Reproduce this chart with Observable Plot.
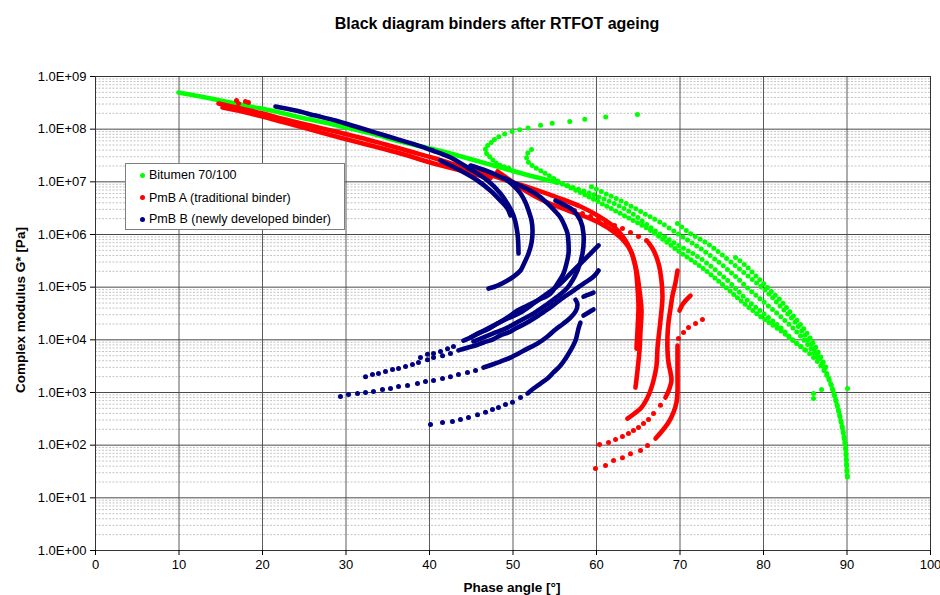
<!DOCTYPE html>
<html><head><meta charset="utf-8">
<script src="https://cdn.jsdelivr.net/npm/d3@7"></script>
<script src="https://cdn.jsdelivr.net/npm/@observablehq/plot@0.6"></script>
<style>
body{margin:0;background:#fff;font-family:"Liberation Sans",Arial,sans-serif;}
#wrap{position:relative;width:940px;height:595px;overflow:hidden;}
#chart{position:absolute;left:0;top:0;}
.title{position:absolute;top:14px;left:0;width:994px;text-align:center;font-weight:bold;font-size:16px;line-height:20px;}
.ylab{position:absolute;left:20px;top:310px;transform:translate(-50%,-50%) rotate(-90deg);font-weight:bold;font-size:13.5px;white-space:nowrap;}
.xlab{position:absolute;left:512px;top:587px;transform:translate(-50%,-50%);font-weight:bold;font-size:13.5px;white-space:nowrap;}
.legend{position:absolute;left:125px;top:163px;width:218px;height:65px;border:1px solid #7f7f7f;background:#fff;font-size:12.5px;}
.item{position:absolute;left:0;height:16px;line-height:16px;white-space:nowrap;}
.item i{position:absolute;left:14px;top:5.5px;width:5px;height:5px;border-radius:50%;}
.item span{position:absolute;left:23px;top:0;}
</style></head>
<body><div id="wrap"></div>
<script>
// ---------------- data ----------------
const seriesNames = ["Bitumen 70/100", "PmB A (traditional binder)", "PmB B (newly developed binder)"];
const xTicks = [0,10,20,30,40,50,60,70,80,90,100];
const xTickLabels = ["0","10","20","30","40","50","60","70","80","90","100"];
const yTicks = [1,10,100,1e3,1e4,1e5,1e6,1e7,1e8,1e9];
const yTickLabels = ["1.0E+00","1.0E+01","1.0E+02","1.0E+03","1.0E+04","1.0E+05","1.0E+06","1.0E+07","1.0E+08","1.0E+09"];

// Bitumen 70/100  [phase angle °, G* Pa]
const bitumenBand = [[9.94,4.96e8],[12.57,4.17e8],[15.57,3.34e8],[18.56,2.69e8],[21.56,2.16e8],[24.55,1.66e8],[27.54,1.33e8],[30.54,1.03e8],[33.53,7.9e7],[36.53,5.8e7],[39.52,4.5e7],[42.51,3.45e7],[45.51,2.54e7],[48.50,1.87e7],[51.50,1.38e7],[55.33,9.7e6]];
const bitumenB = [[55.33,9.7e6],[59.28,6.0e6],[63.71,2.85e6],[67.31,1.09e6],[70.06,5.9e5],[72.46,3.5e5],[75.69,1.34e5],[77.84,6.1e4],[80.0,3.16e4],[82.04,1.71e4],[83.59,9.7e3],[85.39,5.7e3],[86.83,3.25e3],[87.90,1.69e3],[88.50,8.8e2],[88.98,4.55e2],[89.46,2.07e2],[89.82,9.0e1],[89.94,4.5e1],[90.06,2.3e1]];
const bitumenA = [[59.40,8.1e6],[61.08,6.0e6],[62.87,4.4e6],[64.67,3.1e6],[66.11,2.3e6],[67.66,1.69e6],[70.06,9.6e5],[72.46,5.4e5],[74.85,2.81e5],[76.65,1.59e5],[78.44,8.6e4],[80.24,4.9e4],[82.04,2.77e4],[83.83,1.50e4],[85.39,7.8e3],[86.59,4.4e3]];
const bitumenC = [[69.70,1.61e6],[71.26,1.04e6],[73.29,6.7e5],[74.85,4.35e5],[76.89,2.36e5],[78.80,1.34e5],[80.48,7.9e4],[82.04,4.3e4],[83.59,2.33e4],[84.79,1.32e4],[85.99,7.1e3],[87.07,3.55e3],[87.90,1.69e3],[88.50,8.8e2],[88.98,4.55e2],[89.46,2.07e2],[89.82,9.0e1],[89.94,4.5e1],[90.06,2.3e1]];
const bitumenD = [[76.65,3.66e5],[77.84,2.58e5],[78.80,1.82e5],[79.88,1.22e5],[80.84,8.6e4],[82.04,5.6e4],[83.23,3.3e4],[84.43,1.95e4],[85.63,1.06e4],[86.59,5.7e3],[87.54,2.85e3]];
const bitumenHook1Sparse = [[64.9,1.9e8],[61.1,1.7e8],[58.6,1.55e8],[56.8,1.40e8],[54.7,1.29e8],[53.3,1.19e8],[51.8,1.05e8],[50.8,9.8e7],[49.9,9.0e7],[49.0,8.1e7],[48.3,7.2e7]];
const bitumenHook1 = [[47.78,6.35e7],[47.54,5.8e7],[47.07,5.1e7],[46.71,4.3e7],[46.83,3.45e7],[47.31,2.9e7],[47.90,2.33e7],[48.50,2.04e7],[49.70,1.79e7]];
const bitumenHook2 = [[52.22,4.1e7],[51.74,3.45e7],[51.62,2.9e7],[51.86,2.33e7],[52.46,1.95e7],[53.29,1.64e7],[54.49,1.26e7],[55.69,9.7e6],[59.28,5.0e6],[62.87,2.5e6],[66.47,1.19e6],[70.06,4.55e5],[72.46,2.47e5],[74.85,1.22e5],[77.25,5.6e4],[79.64,2.77e4],[82.04,1.50e4],[83.83,8.9e3],[85.39,5.7e3]];
const bitumenStray = [[85.99,9.6e2],[85.99,7.7e2],[86.95,1.14e3],[90.06,1.19e3]];

// PmB A
const pmbAStray = [[16.89,3.5e8],[17.13,3.07e8],[17.96,3.34e8],[18.32,3.2e8]];
const pmbA0 = [[15.21,2.57e8],[18.56,1.98e8],[22.16,1.40e8],[25.75,9.8e7],[29.34,6.9e7],[32.93,4.9e7],[36.53,3.45e7],[40.12,2.33e7],[43.71,1.64e7],[47.31,1.16e7]];
const pmbA1 = [[14.73,3.07e8],[17.37,2.46e8],[20.0,1.98e8],[22.75,1.52e8],[25.75,1.17e8],[28.74,9.0e7],[31.74,6.9e7],[34.73,5.1e7],[37.72,3.76e7],[40.72,2.77e7],[43.71,1.95e7],[46.71,1.44e7],[49.70,1.01e7],[52.69,7.1e6],[55.69,4.8e6],[58.08,3.4e6],[60.12,2.3e6],[61.92,1.48e6],[63.23,8.8e5],[64.19,4.55e5],[64.79,2.07e5],[65.15,8.6e4],[65.39,3.6e4],[65.27,1.50e4],[65.15,6.3e3],[64.91,2.61e3],[64.67,1.24e3]];
const pmbA2 = [[48.14,1.57e7],[49.34,1.16e7],[50.90,7.8e6],[52.46,5.5e6],[54.13,4.05e6],[55.69,3.25e6],[57.25,2.6e6],[59.28,2.0e6],[61.32,1.36e6],[62.87,8.8e5],[64.07,5.0e5],[64.67,2.36e5],[64.91,9.8e4],[65.03,4.5e4],[64.91,1.50e4],[64.79,6.8e3]];
const pmbA3Sparse = [[56.41,3.25e6],[57.37,2.85e6],[58.32,2.5e6],[59.28,2.2e6],[60.24,1.92e6],[61.20,1.69e6],[62.16,1.48e6],[63.11,1.30e6],[64.07,1.09e6],[65.03,9.2e5],[65.99,7.7e5]];
const pmbA3 = [[66.23,7.0e5],[66.83,5.0e5],[67.43,2.81e5],[67.78,1.34e5],[67.90,6.4e4],[67.66,2.33e4],[67.31,7.1e3],[67.19,3.25e3],[66.83,1.69e3],[66.23,8.8e2],[65.39,5.2e2],[64.55,4.0e2],[63.71,3.2e2]];
const pmbA4 = [[69.70,2.07e5],[69.46,1.22e5],[69.10,6.9e4],[68.86,3.9e4],[68.62,2.13e4],[68.50,1.16e4],[68.50,6.3e3],[68.62,3.7e3],[68.86,2.4e3],[68.98,1.69e3],[68.74,1.19e3],[68.26,8.0e2]];
const pmbA4Sparse = [[67.66,5.7e2],[66.83,4.0e2],[66.23,3.07e2],[65.63,2.58e2],[65.03,2.16e2],[64.43,1.90e2],[63.83,1.66e2],[63.11,1.46e2],[62.28,1.28e2],[61.44,1.12e2],[60.36,1.03e2]];
const pmbA5TopSparse = [[72.69,2.43e4],[71.86,2.04e4],[71.02,1.71e4],[70.42,1.38e4],[69.82,1.06e4]];
const pmbA5 = [[69.70,7.8e3],[69.70,4.05e3],[69.70,2.1e3],[69.70,1.09e3],[69.58,6.5e2],[69.22,4.2e2],[68.62,2.69e2],[67.90,1.90e2],[67.07,1.34e2]];
const pmbA5Sparse = [[66.11,9.9e1],[65.27,7.9e1],[64.07,6.9e1],[63.11,5.8e1],[62.04,5.1e1],[61.08,4.1e1],[59.88,3.6e1]];
const pmbA6 = [[69.94,3.6e4],[70.30,4.7e4],[70.78,5.8e4],[71.26,6.9e4]];

// PmB B
const pmbB1 = [[21.56,2.69e8],[23.95,2.26e8],[26.35,1.81e8],[28.74,1.46e8],[31.14,1.12e8],[33.53,8.6e7],[35.93,6.6e7],[38.32,5.1e7],[40.36,3.93e7],[42.51,2.9e7],[44.55,1.87e7],[46.95,1.06e7],[48.50,6.0e6],[49.46,3.55e6],[50.06,2.3e6],[50.54,1.04e6],[50.66,4.35e5]];
const pmbB1b = [[41.32,2.54e7],[43.71,1.64e7],[45.75,1.06e7],[47.31,6.8e6],[48.50,4.4e6],[49.34,3.1e6],[49.70,2.3e6]];
const pmbB2 = [[44.91,2.04e7],[46.71,1.64e7],[48.14,1.32e7],[49.34,1.06e7],[50.18,8.1e6],[50.90,6.0e6],[51.50,4.05e6],[51.86,2.85e6],[52.22,1.84e6],[52.34,1.19e6],[52.22,7.0e5],[51.86,4.35e5],[51.38,2.94e5],[50.90,2.07e5],[50.06,1.59e5],[49.34,1.34e5],[48.14,1.07e5],[47.07,9.4e4]];
const pmbB3 = [[49.10,1.16e7],[50.30,9.3e6],[52.10,6.8e6],[53.17,5.3e6],[54.13,3.9e6],[54.97,2.85e6],[55.69,2.1e6],[56.17,1.48e6],[56.53,1.04e6],[56.65,6.7e5],[56.65,4.35e5],[56.41,2.81e5],[56.05,1.82e5],[55.33,1.17e5],[54.49,7.6e4],[52.93,5.6e4],[51.50,4.3e4],[50.54,3.6e4],[49.34,2.65e4],[48.14,2.04e4],[46.95,1.57e4],[45.75,1.32e4],[44.91,1.11e4],[44.07,9.7e3]];
const pmbB3Sparse = [[42.87,7.5e3],[42.16,6.8e3],[41.32,6.0e3],[40.48,5.5e3],[39.76,5.3e3],[38.92,4.6e3]];
const pmbB4 = [[55.09,4.4e6],[56.29,3.55e6],[57.25,2.85e6],[58.08,1.84e6],[58.44,1.04e6],[58.32,4.35e5],[57.72,2.07e5],[56.53,9.8e4],[55.21,6.4e4],[53.89,4.5e4],[52.46,3.16e4],[50.90,2.33e4],[49.34,1.71e4],[47.90,1.38e4],[46.47,1.11e4],[45.27,9.3e3]];
const pmbB5 = [[44.91,1.11e4],[46.11,1.38e4],[47.66,1.87e4],[49.34,2.54e4],[50.90,3.3e4],[52.46,4.9e4],[54.13,7.6e4],[55.69,1.17e5],[56.89,1.82e5],[58.08,2.81e5],[59.28,4.35e5],[60.24,6.2e5]];
const pmbB6Sparse = [[32.34,2.0e3],[33.17,2.2e3],[33.89,2.3e3],[34.73,2.5e3],[35.57,2.73e3],[36.29,2.85e3],[37.13,3.1e3],[37.96,3.4e3],[38.68,3.7e3],[39.76,4.2e3],[40.48,4.6e3],[41.56,5.0e3],[42.51,5.5e3]];
const pmbB6 = [[43.47,6.3e3],[44.55,7.1e3],[45.51,7.8e3],[46.47,8.9e3],[47.54,1.01e4],[48.50,1.22e4],[49.46,1.38e4],[50.30,1.64e4],[51.26,1.95e4],[52.10,2.33e4],[53.05,2.9e4],[54.13,3.77e4],[55.09,4.9e4],[56.05,6.4e4],[57.25,8.6e4],[58.44,1.17e5],[59.52,1.52e5],[60.24,2.07e5]];
const pmbB7Sparse = [[29.34,8.4e2],[30.30,9.2e2],[31.38,9.6e2],[32.34,1.0e3],[33.29,1.04e3],[34.37,1.14e3],[35.33,1.19e3],[36.29,1.30e3],[37.37,1.36e3],[38.56,1.48e3],[39.52,1.62e3],[40.48,1.69e3],[41.56,1.85e3],[42.51,2.0e3],[43.47,2.2e3],[44.55,2.4e3],[45.51,2.61e3]];
const pmbB7 = [[46.47,2.98e3],[47.54,3.4e3],[48.50,3.87e3],[49.70,4.6e3],[50.66,5.5e3],[51.74,6.8e3],[52.93,8.5e3],[54.13,1.16e4],[55.09,1.57e4],[56.05,2.04e4],[56.89,2.65e4],[57.49,3.45e4],[57.72,4.7e4],[57.49,5.8e4]];
const pmbB7b = [[58.44,6.6e4],[59.04,7.2e4],[59.64,7.9e4]];
const pmbB8Sparse = [[40.12,2.47e2],[41.56,2.69e2],[42.75,2.81e2],[43.71,3.07e2],[44.67,3.35e2],[45.75,3.8e2],[46.71,4.2e2],[47.54,4.75e2],[48.26,5.2e2],[49.10,5.9e2],[49.94,6.5e2],[50.90,8.0e2]];
const pmbB8 = [[51.74,9.6e2],[52.46,1.19e3],[53.29,1.48e3],[54.13,1.85e3],[54.85,2.4e3],[55.69,3.25e3],[56.29,4.4e3],[56.89,6.3e3],[57.49,9.7e3],[57.84,1.64e4],[58.08,2.13e4]];
const pmbB8b = [[58.44,2.9e4],[59.04,3.3e4],[59.64,3.77e4]];

// ---------------- drawing ----------------
const COLORS = ["#00ff00", "#ff0000", "#000080"];
const X = d => d[0], Y = d => d[1];
const solid = (data, c) => Plot.line(data, {x: X, y: Y, stroke: c, strokeWidth: 4.6, strokeLinecap: "round", strokeLinejoin: "round", curve: "catmull-rom"});
const dotted = (data, c, gap) => Plot.line(data, {x: X, y: Y, stroke: c, strokeWidth: 5, strokeLinecap: "round", strokeLinejoin: "round", curve: "catmull-rom", strokeDasharray: `0 ${gap}`});
const dots = (data, c) => Plot.dot(data, {x: X, y: Y, r: 2.5, fill: c});

const minorY = [];
for (let e = 0; e < 9; e++) for (let k = 2; k <= 9; k++) minorY.push(k * Math.pow(10, e));

const [G, R, B] = COLORS;
const chart = Plot.plot({
  width: 940, height: 595,
  marginLeft: 95, marginRight: 10, marginTop: 76, marginBottom: 45,
  style: {fontFamily: '"Liberation Sans", Arial, sans-serif', fontSize: "13px", color: "#000", background: "#fff", overflow: "visible"},
  x: {domain: [0, 100], label: null},
  y: {type: "log", domain: [1, 1e9], label: null},
  marks: [
    Plot.ruleY(minorY, {stroke: "#c4c4c4", strokeDasharray: "2,1.5", strokeWidth: 1}),
    Plot.gridX(xTicks, {stroke: "#5a5a5a", strokeOpacity: 1}),
    Plot.gridY(yTicks, {stroke: "#4a4a4a", strokeOpacity: 1}),
    Plot.frame({stroke: "#333"}),
    Plot.axisY(yTicks, {tickSize: 5, tickPadding: 4, label: null, tickFormat: d => yTickLabels[yTicks.indexOf(d)]}),
    Plot.axisX(xTicks, {tickSize: 5, tickPadding: 4, label: null, tickFormat: d => xTickLabels[xTicks.indexOf(d)]}),
    // Bitumen
    solid(bitumenBand, G),
    dotted(bitumenB, G, 5.5), dotted(bitumenA, G, 5.5), dotted(bitumenC, G, 5.5), dotted(bitumenD, G, 5.5),
    dotted(bitumenHook1, G, 4.5), dotted(bitumenHook2, G, 5),
    dots(bitumenHook1Sparse, G), dots(bitumenStray, G),
    // PmB A
    solid(pmbA0, R), solid(pmbA1, R), solid(pmbA2, R), solid(pmbA3, R), solid(pmbA4, R), solid(pmbA5, R), solid(pmbA6, R),
    dots(pmbAStray, R), dots(pmbA3Sparse, R), dots(pmbA4Sparse, R), dots(pmbA5TopSparse, R), dots(pmbA5Sparse, R),
    // PmB B
    solid(pmbB1, B), solid(pmbB1b, B), solid(pmbB2, B), solid(pmbB3, B), solid(pmbB4, B), solid(pmbB5, B),
    solid(pmbB6, B), solid(pmbB7, B), solid(pmbB7b, B), solid(pmbB8, B), solid(pmbB8b, B),
    dots(pmbB3Sparse, B), dots(pmbB6Sparse, B), dots(pmbB7Sparse, B), dots(pmbB8Sparse, B)
  ]
});
chart.id = "chart";
const wrap = document.getElementById("wrap");
wrap.appendChild(chart);

const t = document.createElement("div"); t.className = "title"; t.textContent = "Black diagram binders after RTFOT ageing"; wrap.appendChild(t);
const yl = document.createElement("div"); yl.className = "ylab"; yl.textContent = "Complex modulus G* [Pa]"; wrap.appendChild(yl);
const xl = document.createElement("div"); xl.className = "xlab"; xl.textContent = "Phase angle [°]"; wrap.appendChild(xl);

const lg = document.createElement("div"); lg.className = "legend";
const rowsTop = [3, 25.5, 47];
seriesNames.forEach((name, i) => {
  const it = document.createElement("div"); it.className = "item"; it.style.top = rowsTop[i] + "px";
  const dot = document.createElement("i"); dot.style.background = COLORS[i];
  const sp = document.createElement("span"); sp.textContent = name;
  it.appendChild(dot); it.appendChild(sp); lg.appendChild(it);
});
wrap.appendChild(lg);
</script>
</body></html>
